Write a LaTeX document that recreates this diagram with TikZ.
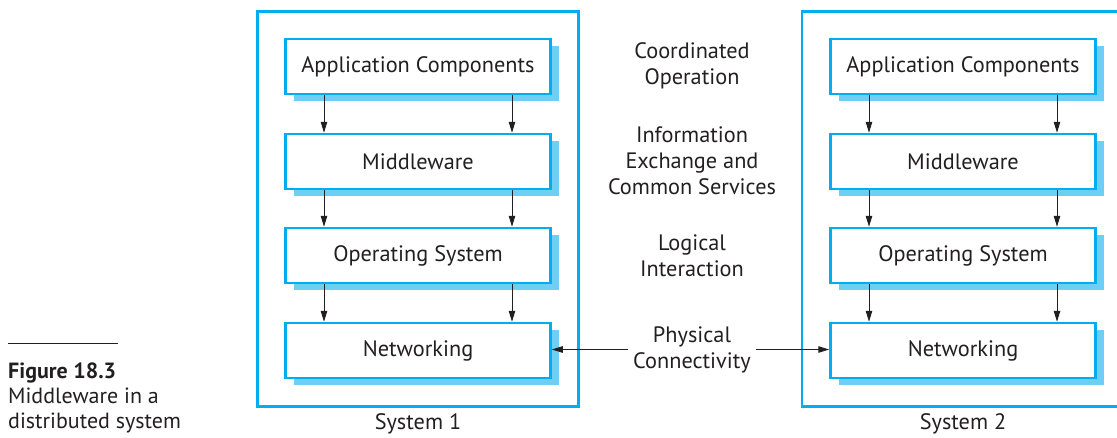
\documentclass[tikz,border=0pt]{standalone}
\usepackage{fontspec}
\setmainfont{PT Sans}
\usetikzlibrary{shadows,arrows.meta}
\definecolor{cyanline}{HTML}{00AEEF}
\definecolor{cyanshadow}{HTML}{6DCFF6}
\definecolor{ink}{HTML}{231F20}
\begin{document}
\begin{tikzpicture}[x=1pt,y=-1pt,
  every node/.style={text=ink, font=\fontsize{22.3}{26}\selectfont},
  layerbox/.style={draw=cyanline, line width=2.5pt, fill=white,
    minimum width=265pt, minimum height=55pt, inner sep=0pt,
    general shadow={fill=cyanshadow, shadow xshift=8pt, shadow yshift=-7pt}},
  sysbox/.style={draw=cyanline, line width=2.5pt, inner sep=0pt,
    minimum height=395pt},
  flow/.style={draw=ink, line width=1pt, -{Triangle[length=11pt,width=6.5pt]}},
  midlabel/.style={align=center, inner sep=5pt},
  caption/.style={align=left, inner sep=0pt, anchor=north west,
    font=\fontsize{22}{25}\selectfont}
]
\useasboundingbox (0,0) rectangle (1117,437);
\clip (0,0) rectangle (1117,437);
% outer system boxes
\node[sysbox, minimum width=321pt] (sys1) at (418,209) {};
\node[sysbox, minimum width=340pt] (sys2) at (972,209) {};
% system 1 layers
\node[layerbox] (a1) at (418,66.5) {Application Components};
\node[layerbox] (m1) at (418,161.5) {Middleware};
\node[layerbox] (o1) at (418,255.5) {Operating System};
\node[layerbox] (n1) at (418,350.5) {Networking};
% system 2 layers
\node[layerbox] (a2) at (963,66.5) {Application Components};
\node[layerbox] (m2) at (963,161.5) {Middleware};
\node[layerbox] (o2) at (963,255.5) {Operating System};
\node[layerbox] (n2) at (963,350.5) {Networking};
% vertical arrows
\foreach \s in {1,2}{
  \foreach \dx in {-94,94}{
    \draw[flow] ([xshift=\dx pt]a\s.south) -- ([xshift=\dx pt]m\s.north);
    \draw[flow] ([xshift=\dx pt]m\s.south) -- ([xshift=\dx pt]o\s.north);
    \draw[flow] ([xshift=\dx pt]o\s.south) -- ([xshift=\dx pt]n\s.north);
  }
}
% middle labels
\node[midlabel] (co) at (692,65.5) {Coordinated\\Operation};
\node[midlabel] (ie) at (692,160.5) {Information\\Exchange and\\Common Services};
\node[midlabel] (li) at (692,255.5) {Logical\\Interaction};
\node[midlabel] (pc) at (692,349.5) {Physical\\Connectivity};
\draw[flow] (pc.west) -- (pc.west -| n1.east);
\draw[flow] (pc.east) -- (pc.east -| n2.west);
% system labels
\node (s1) at (418,424) {System 1};
\node (s2) at (963,424) {System 2};
% caption
\draw[ink, line width=0.8pt] (8,343) -- (118,343);
\node[caption] (cap) at (8,363) {\textbf{Figure 18.3}\\Middleware in a\\distributed system};
\end{tikzpicture}
\end{document}
